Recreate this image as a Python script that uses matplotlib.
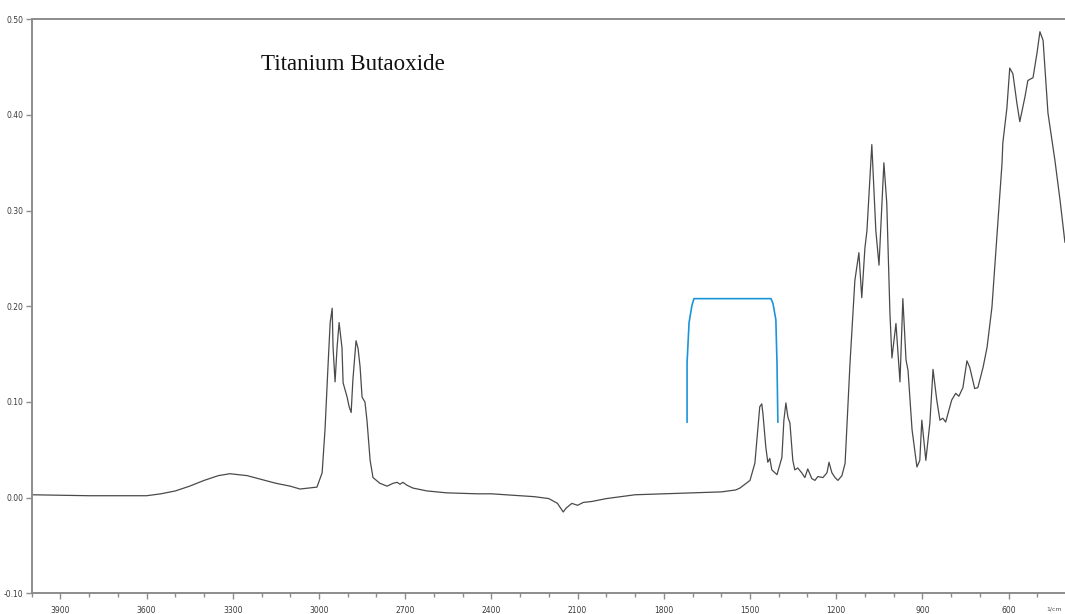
import numpy as np
import matplotlib
matplotlib.use('Agg')
import matplotlib.pyplot as plt
from matplotlib.ticker import MultipleLocator, FormatStrFormatter

# ── Data ──────────────────────────────────────────────────────────────────────

wavenumber = [
    4000, 3800, 3700, 3600, 3550, 3500, 3450, 3400, 3350, 3310, 3250, 3200,
    3150, 3100, 3066, 3007, 2989, 2979, 2968, 2961, 2954, 2951, 2944, 2937,
    2930, 2920, 2916, 2902, 2895, 2888, 2882, 2871, 2864, 2857, 2850, 2840,
    2833, 2822, 2812, 2788, 2763, 2742, 2728, 2718, 2708, 2694, 2673, 2624,
    2555, 2450, 2400, 2350, 2300, 2250, 2200, 2170, 2150, 2140, 2120, 2100,
    2080, 2050, 2000, 1950, 1900, 1800, 1700, 1600, 1550, 1535, 1500, 1483,
    1473, 1466, 1459, 1455, 1445, 1438, 1431, 1424, 1406, 1389, 1382, 1375,
    1368, 1361, 1351, 1344, 1334, 1320, 1309, 1299, 1285, 1274, 1264, 1246,
    1232, 1225, 1215, 1204, 1194, 1180, 1169, 1152, 1135, 1121, 1111, 1100,
    1093, 1076, 1062, 1051, 1034, 1024, 1013, 1006, 992, 978, 968, 957,
    950, 936, 919, 909, 902, 888, 874, 863, 850, 839, 829, 819,
    798, 784, 773, 759, 745, 735, 718, 707, 689, 675, 658, 641,
    623, 620, 606, 596, 585, 571, 561, 543, 533, 515, 501, 491,
    480, 463, 439, 421, 404,
]
absorbance = [
    0.003, 0.002, 0.002, 0.002, 0.004, 0.007, 0.012, 0.018, 0.023, 0.025, 0.023, 0.019,
    0.015, 0.012, 0.009, 0.011, 0.026, 0.071, 0.141, 0.183, 0.198, 0.157, 0.121, 0.157,
    0.183, 0.157, 0.120, 0.105, 0.095, 0.089, 0.123, 0.164, 0.156, 0.137, 0.105, 0.100,
    0.081, 0.039, 0.021, 0.015, 0.012, 0.015, 0.016, 0.014, 0.016, 0.013, 0.010, 0.007,
    0.005, 0.004, 0.004, 0.003, 0.002, 0.001, -0.001, -0.006, -0.015, -0.011, -0.006, -0.008,
    -0.005, -0.004, -0.001, 0.001, 0.003, 0.004, 0.005, 0.006, 0.008, 0.010, 0.018, 0.036,
    0.070, 0.095, 0.098, 0.088, 0.053, 0.037, 0.041, 0.029, 0.024, 0.042, 0.081, 0.099,
    0.084, 0.078, 0.039, 0.029, 0.031, 0.026, 0.021, 0.030, 0.020, 0.018, 0.022, 0.021,
    0.026, 0.037, 0.026, 0.021, 0.018, 0.023, 0.036, 0.140, 0.227, 0.256, 0.209, 0.261,
    0.279, 0.369, 0.279, 0.243, 0.350, 0.308, 0.193, 0.146, 0.182, 0.121, 0.208, 0.144,
    0.133, 0.071, 0.032, 0.039, 0.081, 0.039, 0.078, 0.134, 0.102, 0.081, 0.083, 0.079,
    0.102, 0.109, 0.106, 0.115, 0.143, 0.136, 0.114, 0.115, 0.136, 0.157, 0.199, 0.272,
    0.349, 0.371, 0.407, 0.449, 0.443, 0.412, 0.393, 0.419, 0.436, 0.439, 0.465, 0.487,
    0.478, 0.402, 0.353, 0.311, 0.267,
]

# blue bracket drawn over the 1700-1400 region
bracket_wn = [1719, 1719, 1712, 1702, 1695, 1427, 1420, 1410, 1406, 1403]
bracket_abs = [0.079, 0.141, 0.183, 0.201, 0.208, 0.208, 0.203, 0.186, 0.141, 0.079]

TITLE = 'Titanium Butaoxide'
X_LABEL = '1/cm'

TICK_FONT = ['Liberation Sans Narrow', 'DejaVu Sans']
AXIS_GREY = '#8c8c8c'

# ── Plot ──────────────────────────────────────────────────────────────────────

fig = plt.figure(figsize=(10.65, 6.14), dpi=100)
ax = fig.add_axes([0.0297, 0.0337, 0.9713, 0.9349])

ax.plot(wavenumber, absorbance, color='#4a4a4a', lw=0.9, solid_joinstyle='round')
ax.plot(bracket_wn, bracket_abs, color='#1a95d8', lw=1.2, solid_joinstyle='round')

ax.set_xlim(4000, 400)
ax.set_ylim(-0.10, 0.50)

ax.set_xticks(np.arange(3900, 500, -300))
ax.xaxis.set_minor_locator(MultipleLocator(100))
ax.yaxis.set_major_locator(MultipleLocator(0.1))
ax.yaxis.set_major_formatter(FormatStrFormatter('%.2f'))

for side in ('left', 'bottom', 'top'):
    ax.spines[side].set_color(AXIS_GREY)
    ax.spines[side].set_linewidth(1.4)
ax.spines['right'].set_visible(False)

ax.tick_params(axis='both', which='major', direction='out', length=4,
               width=1.0, color=AXIS_GREY, labelsize=5.5, labelcolor='#3a3a3a')
ax.tick_params(axis='x', which='major', pad=5)
ax.tick_params(axis='y', which='major', pad=2)
ax.tick_params(axis='x', which='minor', direction='out', length=3,
               width=1.0, color=AXIS_GREY)
for lbl in ax.get_xticklabels() + ax.get_yticklabels():
    lbl.set_family(TICK_FONT)

ax.text(0.2219, 0.911, TITLE, transform=ax.transAxes, ha='left', va='baseline',
        fontsize=16.6, family=['Liberation Serif', 'DejaVu Serif'], color='#111111')

fig.text(0.997, 0.004, X_LABEL, fontsize=4.5, family=TICK_FONT,
         color='#555555', ha='right', va='bottom')

fig.savefig('out.png', dpi=100)
